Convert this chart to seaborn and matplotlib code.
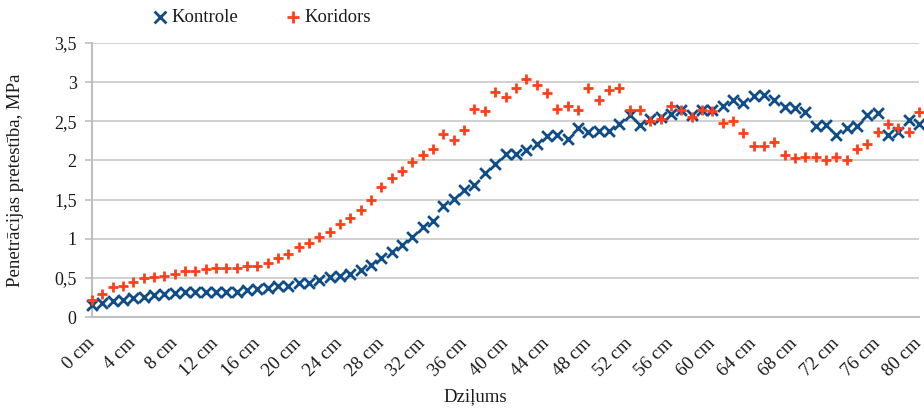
import numpy as np
import pandas as pd
import matplotlib
matplotlib.use("Agg")
import matplotlib.pyplot as plt
import seaborn as sns

depth_cm = list(range(0, 81))

kontrole = [0.15, 0.18, 0.20, 0.22, 0.24, 0.26, 0.28, 0.30, 0.31, 0.32,
            0.32, 0.32, 0.32, 0.32, 0.32, 0.35, 0.36, 0.37, 0.39, 0.40,
            0.43, 0.43, 0.47, 0.51, 0.53, 0.55, 0.60, 0.66, 0.75, 0.83,
            0.92, 1.02, 1.15, 1.23, 1.42, 1.51, 1.62, 1.69, 1.84, 1.96,
            2.08, 2.08, 2.13, 2.21, 2.31, 2.32, 2.27, 2.41, 2.36, 2.37,
            2.37, 2.46, 2.58, 2.45, 2.53, 2.55, 2.59, 2.65, 2.58, 2.64,
            2.64, 2.70, 2.77, 2.73, 2.82, 2.83, 2.77, 2.68, 2.67, 2.62,
            2.44, 2.45, 2.33, 2.42, 2.44, 2.58, 2.61, 2.33, 2.36, 2.52,
            2.47]

koridors = [0.22, 0.30, 0.38, 0.40, 0.45, 0.50, 0.51, 0.53, 0.55, 0.59,
            0.59, 0.61, 0.63, 0.63, 0.63, 0.65, 0.65, 0.69, 0.75, 0.81,
            0.89, 0.95, 1.02, 1.09, 1.19, 1.26, 1.37, 1.49, 1.66, 1.77,
            1.87, 1.98, 2.07, 2.14, 2.34, 2.26, 2.39, 2.66, 2.63, 2.87,
            2.81, 2.92, 3.04, 2.96, 2.86, 2.66, 2.69, 2.65, 2.93, 2.77,
            2.90, 2.93, 2.65, 2.65, 2.50, 2.53, 2.69, 2.65, 2.56, 2.65,
            2.63, 2.48, 2.50, 2.35, 2.18, 2.18, 2.23, 2.07, 2.03, 2.04,
            2.04, 2.00, 2.05, 2.01, 2.15, 2.21, 2.36, 2.47, 2.42, 2.36,
            2.62]

series_names = ["Kontrole", "Koridors"]
tick_positions = list(range(0, 81, 4))
tick_labels = [f"{t} cm" for t in tick_positions]
y_ticks = [0, 0.5, 1, 1.5, 2, 2.5, 3, 3.5]
y_tick_labels = ["0", "0,5", "1", "1,5", "2", "2,5", "3", "3,5"]

df = pd.DataFrame({
    "depth": depth_cm * 2,
    "value": kontrole + koridors,
    "series": [series_names[0]] * len(kontrole) + [series_names[1]] * len(koridors),
})

sns.set_theme(style="white")
plt.rcParams["font.family"] = "serif"
plt.rcParams["font.serif"] = ["Liberation Serif", "DejaVu Serif"]
TXT = "#1a1a1a"

fig = plt.figure(figsize=(9.24, 4.09), dpi=100)
ax = fig.add_axes([92 / 924, 1 - 317 / 409, (919 - 92) / 924, (317 - 43) / 409])

palette = {"Kontrole": "#0F4C8A", "Koridors": "#FF3E1A"}

for name, mk in [("Kontrole", "x"), ("Koridors", "+")]:
    sub = df[df["series"] == name]
    sns.scatterplot(data=sub, x="depth", y="value", ax=ax, color=palette[name],
                    marker=mk, s=60, linewidth=2.0, clip_on=False, label=name,
                    zorder=3)

ax.set_xlim(0, 80)
ax.set_ylim(0, 3.5)
ax.set_yticks(y_ticks)
ax.set_yticklabels(y_tick_labels, fontsize=13)
ax.set_xticks(tick_positions)
ax.set_xticklabels(tick_labels, fontsize=13.5, rotation=45, ha="right",
                   va="center", rotation_mode="anchor")
ax.yaxis.grid(True, color="#C8C8C8", linewidth=1.2)
ax.xaxis.grid(False)
for s in ["top", "right"]:
    ax.spines[s].set_visible(False)
for s in ["left", "bottom"]:
    ax.spines[s].set_color("#BEBEBE")
    ax.spines[s].set_linewidth(1.5)
ax.tick_params(axis="y", which="major", left=True, length=5, width=1.2,
               color="#BEBEBE", pad=6, labelcolor=TXT)
ax.tick_params(axis="x", which="major", bottom=False, pad=11, labelcolor=TXT)

ax.set_xlabel("Dziļums", fontsize=13.5, color=TXT)
ax.set_ylabel("Penetrācijas pretestība, MPa", fontsize=13.5, color=TXT)
ax.yaxis.set_label_coords((24 - 92) / 827, 0.5)
ax.xaxis.set_label_coords((475 - 92) / 827, (317 - 388) / 274)

leg = ax.legend(loc="center left", bbox_to_anchor=(152 / 924, 1 - 17 / 409),
                bbox_transform=fig.transFigure, ncol=2, frameon=False,
                fontsize=13.5, handlelength=0.8, handletextpad=0.24,
                columnspacing=2.5, markerscale=1.1, borderpad=0,
                borderaxespad=0)
for t in leg.get_texts():
    t.set_color(TXT)

fig.savefig("out.png", dpi=100)
